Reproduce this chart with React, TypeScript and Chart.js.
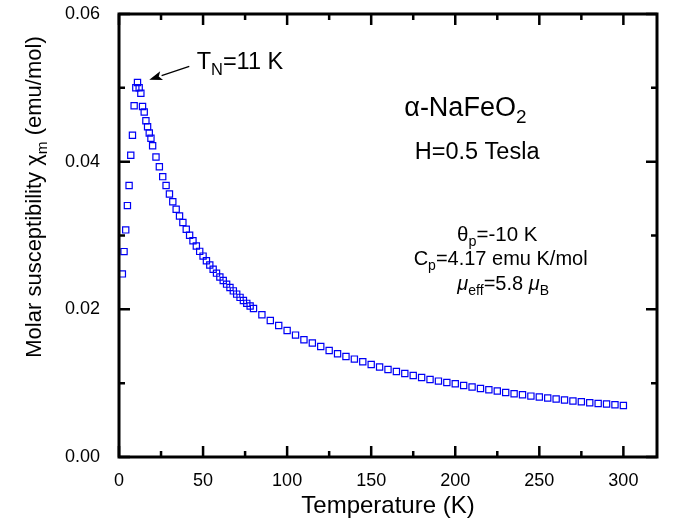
import React, { useEffect, useRef } from "react";
import { Chart, registerables } from "chart.js";

Chart.register(...registerables);

// ---- data ----
const temperatureK = [
  2, 3, 4, 5, 6, 7, 8, 9, 10, 11, 12, 13, 14, 15, 16, 17, 18, 19, 20,
  22, 24, 26, 28, 30, 32, 34, 36, 38, 40, 42, 44, 46, 48, 50, 52, 54, 56, 58, 60,
  62, 64, 66, 68, 70, 72, 74, 76, 78, 80,
  85, 90, 95, 100, 105, 110, 115, 120, 125, 130, 135, 140, 145, 150, 155, 160,
  165, 170, 175, 180, 185, 190, 195, 200, 205, 210, 215, 220, 225, 230, 235, 240,
  245, 250, 255, 260, 265, 270, 275, 280, 285, 290, 295, 300,
];

const chiM = [
  0.0248, 0.02782, 0.03076, 0.03405, 0.03678, 0.04088, 0.04357, 0.04758, 0.05001, 0.05072,
  0.05001, 0.04927, 0.04747, 0.04673, 0.04555, 0.04472, 0.04388, 0.04318, 0.04215,
  0.04064, 0.03932, 0.03797, 0.03677, 0.03563, 0.03457, 0.03356, 0.03265, 0.03175, 0.03085,
  0.03004, 0.0293, 0.02858, 0.02785, 0.02721, 0.02659, 0.026, 0.02544, 0.0249, 0.02438,
  0.0239, 0.02341, 0.02295, 0.0225, 0.02206, 0.02162, 0.02119, 0.02081, 0.02045, 0.02011,
  0.01926, 0.01848, 0.01781, 0.01713, 0.01651, 0.01587, 0.01543, 0.01497, 0.01442, 0.01398,
  0.01361, 0.01326, 0.0129, 0.01253, 0.01218, 0.01185, 0.01158, 0.01131, 0.01104, 0.01077,
  0.0105, 0.01028, 0.01009, 0.00992, 0.00969, 0.00947, 0.00928, 0.00911, 0.00893, 0.00874,
  0.00857, 0.00843, 0.00825, 0.00812, 0.00798, 0.00785, 0.00771, 0.00758, 0.00748, 0.00735,
  0.00725, 0.00717, 0.00708, 0.00698,
];

const xRange = [0, 320];
const yRange = [0, 0.06];
const xTickValues = [0, 50, 100, 150, 200, 250, 300];
const xMinorTickValues = [25, 75, 125, 175, 225, 275];
const yTickValues = [0, 0.02, 0.04, 0.06];
const yMinorTickValues = [0.01, 0.03, 0.05];

const xTitle = "Temperature (K)";
const yTitleParts = [
  { t: "Molar susceptibility \u03c7" },
  { t: "m", sub: true },
  { t: " (emu/mol)" },
];
const compoundParts = [{ t: "\u03b1-NaFeO" }, { t: "2", sub: true }];
const fieldParts = [{ t: "H=0.5 Tesla" }];
const thetaParts = [{ t: "\u03b8" }, { t: "p", sub: true }, { t: "=-10 K" }];
const curieParts = [{ t: "C" }, { t: "p", sub: true }, { t: "=4.17 emu K/mol" }];
const muParts = [
  { t: "\u03bc", italic: true },
  { t: "eff", sub: true },
  { t: "=5.8 " },
  { t: "\u03bc", italic: true },
  { t: "B", sub: true },
];
const tnParts = [{ t: "T" }, { t: "N", sub: true }, { t: "=11 K" }];

const FAMILY = '"Liberation Sans", Arial, Helvetica, sans-serif';

type Part = { t: string; sub?: boolean; italic?: boolean };

function fontFor(p: Part, size: number) {
  const s = p.sub ? size * 0.7 : size;
  return `${p.italic ? "italic " : ""}${s}px ${FAMILY}`;
}

function drawRich(
  ctx: CanvasRenderingContext2D,
  parts: Part[],
  x: number,
  y: number,
  size: number,
  align: "left" | "center"
) {
  let total = 0;
  const widths = parts.map((p) => {
    ctx.font = fontFor(p, size);
    const w = ctx.measureText(p.t).width;
    total += w;
    return w;
  });
  let cx = align === "center" ? x - total / 2 : x;
  ctx.textAlign = "left";
  ctx.textBaseline = "alphabetic";
  parts.forEach((p, i) => {
    ctx.font = fontFor(p, size);
    ctx.fillText(p.t, cx, p.sub ? y + size * 0.25 : y);
    cx += widths[i];
  });
}

const decorPlugin = {
  id: "decor",
  afterDatasetsDraw(chart: any) {
    const { ctx, chartArea: a } = chart;
    const xs = chart.scales.x;
    const ys = chart.scales.y;
    ctx.save();
    ctx.strokeStyle = "#000";
    ctx.fillStyle = "#000";
    ctx.lineCap = "butt";

    // ticks (inward, all four sides)
    ctx.lineWidth = 2.5;
    const xTick = (vals: number[], len: number) => {
      vals.forEach((v) => {
        const px = xs.getPixelForValue(v);
        ctx.beginPath();
        ctx.moveTo(px, a.bottom);
        ctx.lineTo(px, a.bottom - len);
        ctx.moveTo(px, a.top);
        ctx.lineTo(px, a.top + len);
        ctx.stroke();
      });
    };
    const yTick = (vals: number[], len: number) => {
      vals.forEach((v) => {
        const py = ys.getPixelForValue(v);
        ctx.beginPath();
        ctx.moveTo(a.left, py);
        ctx.lineTo(a.left + len, py);
        ctx.moveTo(a.right, py);
        ctx.lineTo(a.right - len, py);
        ctx.stroke();
      });
    };
    xTick(xTickValues, 11);
    xTick(xMinorTickValues, 6);
    yTick(yTickValues, 11);
    yTick(yMinorTickValues, 6);

    // frame
    ctx.lineWidth = 3;
    ctx.strokeRect(a.left, a.top, a.right - a.left, a.bottom - a.top);

    // axis titles
    drawRich(ctx, [{ t: xTitle }], (a.left + a.right) / 2, 513, 24, "center");
    ctx.save();
    ctx.translate(33, 197);
    ctx.rotate(-Math.PI / 2);
    drawRich(ctx, yTitleParts, 0, 8, 22, "center");
    ctx.restore();

    // annotations (placed in data coordinates)
    const P = (t: number, c: number) => [xs.getPixelForValue(t), ys.getPixelForValue(c)];
    let [px, py] = P(206, 0.04618);
    drawRich(ctx, compoundParts, px, py, 27, "center");
    [px, py] = P(213, 0.04042);
    drawRich(ctx, fieldParts, px, py, 23.5, "center");
    [px, py] = P(225, 0.0293);
    drawRich(ctx, thetaParts, px, py, 20.5, "center");
    [px, py] = P(227, 0.026);
    drawRich(ctx, curieParts, px, py, 20, "center");
    [px, py] = P(228.5, 0.0226);
    drawRich(ctx, muParts, px, py, 20, "center");
    [px, py] = P(46.2, 0.0526);
    drawRich(ctx, tnParts, px, py, 23.5, "left");

    // arrow
    const [tx, ty] = P(41.8, 0.0529);
    const [hx, hy] = P(18.0, 0.0511);
    const ang = Math.atan2(hy - ty, hx - tx);
    const headLen = 13;
    const headW = 4.5;
    const bx = hx - headLen * Math.cos(ang);
    const by = hy - headLen * Math.sin(ang);
    ctx.lineWidth = 1.3;
    ctx.beginPath();
    ctx.moveTo(tx, ty);
    ctx.lineTo(bx, by);
    ctx.stroke();
    ctx.beginPath();
    ctx.moveTo(hx, hy);
    ctx.lineTo(bx - headW * Math.sin(ang), by + headW * Math.cos(ang));
    ctx.lineTo(bx + 3 * Math.cos(ang), by + 3 * Math.sin(ang));
    ctx.lineTo(bx + headW * Math.sin(ang), by - headW * Math.cos(ang));
    ctx.closePath();
    ctx.fill();

    ctx.restore();
  },
};

export default function App() {
  const ref = useRef<HTMLCanvasElement | null>(null);

  useEffect(() => {
    if (!ref.current) return;
    const chart = new Chart(ref.current, {
      type: "scatter",
      data: {
        datasets: [
          {
            data: temperatureK.map((t, i) => ({ x: t, y: chiM[i] })),
            pointStyle: "rect",
            pointRadius: 4.4,
            pointBorderWidth: 1.2,
            pointBorderColor: "#0000f5",
            pointBackgroundColor: "rgba(0,0,0,0)",
            showLine: false,
          },
        ],
      },
      options: {
        animation: false,
        responsive: false,
        devicePixelRatio: 1,
        events: [],
        layout: { padding: { left: 0, top: 14, right: 24, bottom: 0 } },
        plugins: { legend: { display: false }, tooltip: { enabled: false } },
        scales: {
          x: {
            type: "linear",
            min: xRange[0],
            max: xRange[1],
            afterBuildTicks: (s: any) => {
              s.ticks = xTickValues.map((v) => ({ value: v }));
            },
            afterFit: (s: any) => {
              s.height = 65;
              s.paddingLeft = 0;
              s.paddingRight = 0;
              s.paddingTop = 0;
              s.paddingBottom = 0;
            },
            grid: { display: false, drawTicks: false },
            border: { display: false },
            ticks: {
              color: "#000",
              padding: 13,
              font: { family: FAMILY, size: 18 },
              callback: (v: any) => String(v),
            },
          },
          y: {
            type: "linear",
            min: yRange[0],
            max: yRange[1],
            afterBuildTicks: (s: any) => {
              s.ticks = yTickValues.map((v) => ({ value: v }));
            },
            afterFit: (s: any) => {
              s.width = 119;
              s.paddingLeft = 0;
              s.paddingRight = 0;
              s.paddingTop = 0;
              s.paddingBottom = 0;
            },
            grid: { display: false, drawTicks: false },
            border: { display: false },
            ticks: {
              color: "#000",
              padding: 19,
              font: { family: FAMILY, size: 18 },
              callback: (v: any) => Number(v).toFixed(2),
            },
          },
        },
      },
      plugins: [decorPlugin],
    });
    return () => chart.destroy();
  }, []);

  return (
    <div style={{ position: "fixed", left: 0, top: 0, width: 681, height: 522, background: "#fff" }}>
      <canvas ref={ref} width={681} height={522} style={{ display: "block" }} />
    </div>
  );
}
